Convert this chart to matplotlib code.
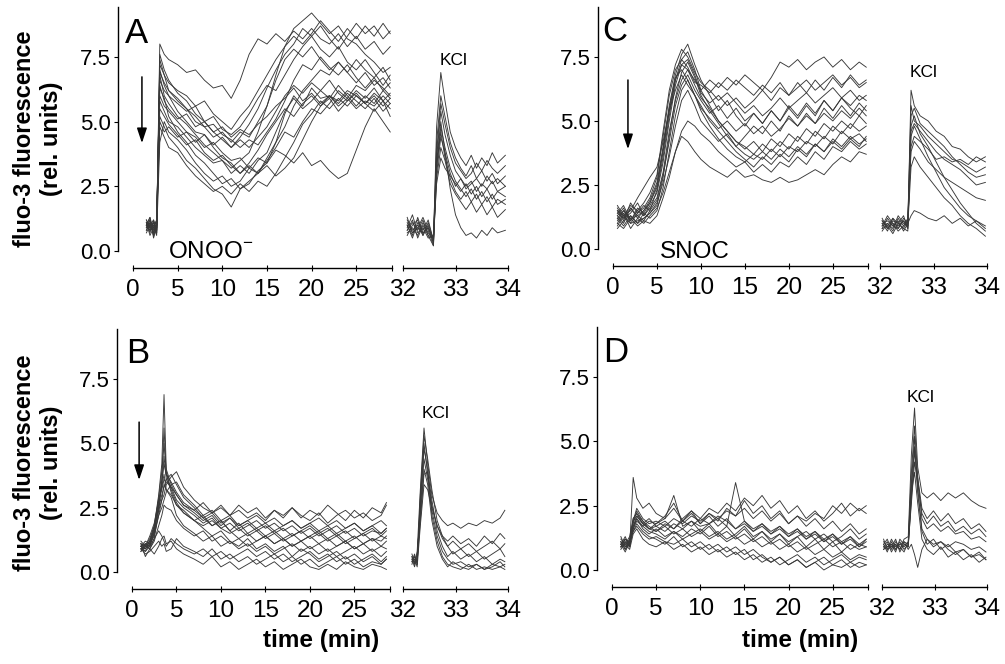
import matplotlib
matplotlib.use("Agg")
import matplotlib.pyplot as plt

# ------------------------------------------------------------------
# DATA (fluo-3 fluorescence, rel. units)
# ------------------------------------------------------------------
YTICKS = [0.0, 2.5, 5.0, 7.5]
YTICKLABELS = ["0.0", "2.5", "5.0", "7.5"]
XTICKS_LEFT = [0, 5, 10, 15, 20, 25]
XTICKS_RIGHT = [32, 33, 34]

# ---- Panel A (ONOO-) main recording ----
t_A = [1.5, 1.9, 2.3, 2.65, 3.0, 3.5, 4, 5, 6, 7, 8, 9, 10, 11, 12, 13, 14, 15, 16,
       17, 18, 19, 20, 21, 22, 23, 24, 25, 26, 27, 28, 28.8]
a01 = [1.0, 1.3, 0.8, 0.9, 8.0, 7.6, 7.4, 7.2, 6.9, 7.0, 6.6, 6.3, 6.4, 5.9, 6.6, 7.6, 8.2, 8.0, 8.4, 8.1, 8.5, 8.2, 8.6, 8.2, 8.0, 8.4, 7.9, 8.3, 7.8, 8.1, 7.6, 7.9]
a02 = [1.1, 0.7, 1.2, 0.8, 7.2, 6.8, 6.2, 5.8, 5.5, 5.0, 4.8, 4.4, 4.6, 4.2, 4.6, 4.4, 5.0, 5.6, 6.8, 7.9, 8.6, 8.9, 9.2, 8.8, 8.4, 8.7, 8.2, 8.0, 7.6, 7.3, 6.9, 7.1]
a03 = [0.9, 1.2, 0.6, 1.0, 5.2, 4.8, 4.4, 4.0, 3.5, 3.2, 2.8, 2.4, 2.2, 1.7, 2.4, 2.6, 3.1, 3.4, 4.2, 5.3, 6.0, 5.6, 6.3, 5.9, 6.0, 5.7, 6.1, 5.8, 5.5, 5.9, 5.4, 5.7]
a04 = [1.0, 0.8, 1.1, 0.7, 6.0, 5.6, 5.4, 5.0, 4.6, 4.4, 4.0, 4.2, 3.8, 3.5, 3.6, 3.2, 3.6, 3.4, 3.9, 3.7, 3.4, 3.8, 3.3, 3.5, 3.1, 2.8, 3.0, 3.9, 4.8, 5.5, 5.0, 4.6]
a05 = [0.8, 1.1, 0.9, 1.2, 6.6, 6.2, 6.0, 5.4, 5.0, 4.6, 4.5, 4.0, 3.6, 3.4, 3.0, 3.3, 3.0, 3.6, 4.2, 4.8, 5.6, 6.2, 6.6, 7.0, 6.8, 7.3, 6.9, 7.4, 7.0, 6.7, 7.1, 6.6]
a06 = [1.2, 0.9, 1.0, 0.6, 4.2, 5.0, 4.6, 4.3, 3.9, 3.4, 3.0, 2.7, 2.9, 2.5, 2.7, 3.2, 3.0, 3.3, 2.9, 3.2, 3.6, 4.3, 5.0, 5.6, 6.0, 5.8, 6.2, 6.0, 5.7, 6.1, 5.8, 5.5]
a07 = [0.9, 1.0, 0.7, 1.1, 7.0, 6.4, 6.0, 5.7, 5.4, 5.6, 5.0, 5.2, 4.7, 4.5, 4.8, 5.3, 5.9, 6.4, 6.2, 6.8, 7.4, 7.9, 8.3, 7.8, 7.5, 7.9, 7.3, 7.0, 7.4, 6.9, 6.4, 6.8]
a08 = [1.1, 0.6, 0.9, 1.0, 5.8, 5.4, 5.0, 4.8, 4.4, 4.0, 3.7, 3.4, 3.5, 3.0, 3.3, 3.0, 3.5, 3.8, 4.6, 5.4, 5.9, 5.5, 5.8, 6.2, 5.9, 6.4, 6.0, 5.6, 6.0, 5.7, 6.2, 5.9]
a09 = [1.0, 1.3, 0.5, 0.9, 6.3, 5.9, 5.2, 4.6, 4.2, 3.7, 3.4, 3.0, 2.6, 2.8, 2.4, 2.7, 3.0, 3.5, 4.0, 4.6, 4.4, 5.0, 5.5, 5.3, 5.7, 6.2, 5.9, 6.4, 6.2, 6.6, 6.3, 6.0]
a10 = [0.7, 1.0, 1.2, 0.8, 7.6, 7.0, 6.6, 6.1, 5.8, 5.3, 5.0, 4.6, 4.3, 4.0, 4.4, 4.9, 5.5, 6.3, 7.0, 7.6, 8.0, 8.6, 8.3, 8.7, 8.2, 7.8, 8.3, 8.8, 8.4, 8.7, 8.2, 8.5]
a11 = [1.0, 0.8, 1.0, 1.1, 5.0, 4.6, 4.8, 4.4, 4.6, 4.2, 4.5, 4.1, 4.4, 4.0, 4.3, 4.0, 4.4, 4.8, 5.4, 6.0, 6.4, 6.1, 6.5, 6.2, 6.6, 6.1, 5.8, 6.2, 5.9, 6.3, 5.8, 6.1]
a12 = [1.2, 0.9, 0.8, 1.0, 6.8, 6.0, 5.7, 5.2, 4.9, 4.5, 4.1, 3.8, 3.5, 3.2, 3.5, 3.8, 4.6, 5.6, 6.6, 7.4, 7.8, 7.5, 7.9, 7.4, 7.0, 7.3, 6.9, 6.5, 6.9, 6.4, 6.7, 6.3]
a13 = [0.8, 1.1, 0.6, 0.9, 4.8, 4.4, 4.0, 3.8, 3.3, 2.9, 2.6, 2.3, 2.5, 2.2, 2.6, 2.3, 2.7, 2.5, 3.0, 3.6, 4.2, 4.9, 5.3, 5.8, 5.5, 5.9, 5.6, 6.0, 5.7, 5.4, 5.8, 5.2]
a14 = [1.1, 1.0, 0.9, 0.7, 7.4, 6.8, 6.5, 6.2, 6.0, 5.6, 5.8, 5.3, 5.0, 4.7, 5.2, 5.6, 6.2, 6.8, 7.4, 7.9, 8.3, 8.0, 8.4, 8.9, 8.5, 8.1, 8.6, 8.2, 8.7, 8.3, 8.8, 8.4]
a15 = [0.9, 1.2, 0.7, 1.0, 6.4, 5.8, 5.5, 5.1, 5.3, 4.8, 5.0, 4.6, 4.8, 4.4, 4.7, 4.5, 4.9, 5.2, 5.6, 5.9, 6.3, 5.8, 6.1, 5.7, 6.0, 5.6, 5.9, 5.5, 5.8, 5.6, 6.0, 5.7]
a16 = [1.0, 0.9, 1.1, 0.8, 5.5, 5.2, 4.9, 4.5, 4.1, 4.3, 3.8, 3.5, 3.7, 3.3, 3.0, 3.4, 3.9, 4.5, 5.0, 5.5, 5.2, 5.7, 6.0, 5.6, 5.9, 5.4, 5.8, 6.1, 5.7, 6.0, 5.6, 5.9]
a17 = [1.1, 0.8, 0.9, 1.2, 6.9, 6.5, 6.2, 5.9, 5.5, 5.2, 4.8, 4.9, 4.5, 4.3, 4.0, 4.3, 4.1, 4.6, 5.1, 5.8, 6.6, 7.2, 7.0, 7.5, 7.1, 6.8, 7.2, 6.7, 6.3, 6.7, 6.2, 6.5]
A_main = [a01, a02, a03, a04, a05, a06, a07, a08, a09, a10, a11, a12, a13, a14, a15, a16, a17]

# ---- Panel A KCl test ----
t_Ak = [32.08, 32.18, 32.28, 32.38, 32.48, 32.58, 32.64, 32.72, 32.8, 32.9, 33.0,
        33.1, 33.2, 33.3, 33.4, 33.5, 33.6, 33.7, 33.8, 33.95]
ak01 = [1.0, 0.6, 1.3, 0.7, 0.9, 0.3, 4.8, 6.9, 5.8, 4.6, 4.0, 3.6, 3.3, 3.7, 3.2, 3.6, 3.3, 3.8, 3.4, 3.7]
ak02 = [0.8, 1.2, 0.5, 1.0, 0.6, 0.5, 4.2, 6.0, 5.2, 4.2, 3.6, 3.2, 2.9, 3.3, 2.8, 3.1, 2.7, 3.0, 2.6, 2.9]
ak03 = [1.1, 0.7, 0.9, 1.3, 0.8, 0.2, 3.6, 5.4, 4.5, 3.7, 3.1, 2.8, 2.5, 2.7, 2.3, 2.6, 2.4, 2.7, 2.3, 2.5]
ak04 = [0.6, 1.0, 1.2, 0.6, 1.1, 0.4, 3.2, 4.8, 4.0, 3.2, 2.7, 2.4, 2.1, 2.4, 2.0, 2.3, 1.9, 2.2, 1.8, 2.0]
ak05 = [0.9, 1.4, 0.7, 0.9, 0.5, 0.6, 3.0, 4.4, 3.8, 3.0, 2.5, 2.8, 2.4, 2.6, 2.8, 2.5, 2.9, 2.6, 2.8, 2.5]
ak06 = [1.2, 0.8, 1.0, 0.6, 1.0, 0.3, 2.8, 4.0, 3.5, 2.6, 2.2, 1.9, 1.6, 1.9, 1.5, 1.8, 1.4, 1.7, 1.3, 1.6]
ak07 = [0.7, 0.9, 0.6, 1.1, 0.7, 0.5, 3.4, 5.0, 3.8, 2.4, 1.4, 0.9, 0.6, 0.7, 0.5, 0.8, 0.6, 0.9, 0.7, 0.8]
ak08 = [1.0, 0.5, 1.1, 0.8, 1.2, 0.4, 3.8, 5.7, 4.9, 4.0, 3.4, 3.1, 2.8, 3.0, 3.4, 3.1, 3.5, 3.2, 3.0, 3.3]
ak09 = [0.8, 1.1, 0.8, 1.2, 0.6, 0.2, 3.3, 4.6, 3.6, 2.8, 2.3, 2.0, 2.3, 1.9, 2.2, 1.8, 2.1, 1.7, 2.0, 1.8]
ak10 = [1.3, 0.7, 0.9, 0.7, 0.9, 0.5, 2.6, 3.6, 3.2, 2.9, 2.6, 2.3, 2.6, 2.2, 2.5, 2.1, 2.4, 2.0, 2.3, 2.1]
A_kcl = [ak01, ak02, ak03, ak04, ak05, ak06, ak07, ak08, ak09, ak10]

# ---- Panel B main recording ----
t_B = [1.0, 1.5, 2.0, 2.5, 3.0, 3.35, 3.6, 3.85, 4.4, 5.0, 5.8, 7, 8, 9, 10, 11, 12,
       13, 14, 15, 16, 17, 18, 19, 20, 21, 22, 23, 24, 25, 26, 27, 28, 28.6]
b01 = [1.0, 0.9, 1.2, 1.8, 3.0, 4.2, 6.9, 4.0, 3.4, 3.0, 2.6, 2.3, 2.0, 2.2, 1.8, 2.1, 1.7, 1.9, 1.6, 1.8, 1.5, 1.7, 1.4, 1.6, 1.8, 1.5, 1.7, 1.4, 1.6, 1.3, 1.5, 1.7, 1.4, 1.6]
b02 = [0.9, 1.1, 1.0, 1.5, 2.6, 3.6, 5.6, 3.8, 3.1, 2.6, 2.4, 2.0, 2.2, 1.8, 2.0, 1.6, 1.9, 1.5, 1.7, 1.4, 1.6, 1.3, 1.5, 1.2, 1.4, 1.6, 1.3, 1.5, 1.2, 1.4, 1.1, 1.3, 1.2, 1.4]
b03 = [1.1, 1.0, 0.9, 1.3, 2.4, 3.4, 4.5, 3.6, 3.3, 2.8, 2.5, 2.2, 1.9, 2.1, 1.7, 1.9, 1.6, 1.8, 2.0, 1.7, 1.9, 1.6, 1.8, 1.5, 1.7, 1.4, 1.6, 1.8, 1.5, 1.7, 1.4, 1.6, 1.5, 1.7]
b04 = [0.8, 1.0, 1.3, 1.8, 2.4, 2.8, 3.0, 3.4, 3.7, 3.9, 3.3, 2.8, 2.5, 2.3, 2.6, 2.2, 2.4, 2.1, 2.3, 2.0, 2.4, 2.1, 2.5, 2.2, 2.0, 2.3, 1.9, 2.2, 2.4, 2.1, 2.3, 2.0, 2.2, 2.6]
b05 = [1.0, 0.8, 1.1, 1.5, 2.2, 2.5, 2.8, 3.1, 3.4, 3.5, 3.0, 2.6, 2.2, 2.4, 2.0, 2.2, 1.8, 2.0, 1.7, 1.9, 1.6, 1.8, 2.0, 1.7, 1.9, 1.6, 1.8, 1.5, 1.7, 1.9, 1.6, 1.8, 1.5, 1.7]
b06 = [0.9, 0.7, 0.8, 1.0, 1.2, 1.0, 1.1, 0.8, 0.9, 1.3, 1.0, 0.8, 0.6, 0.9, 0.5, 0.7, 0.4, 0.6, 0.3, 0.5, 0.7, 0.4, 0.6, 0.3, 0.5, 0.2, 0.4, 0.6, 0.3, 0.5, 0.2, 0.4, 0.3, 0.5]
b07 = [1.1, 0.6, 0.9, 0.7, 1.0, 1.3, 1.4, 1.1, 1.2, 0.9, 0.7, 0.5, 0.3, 0.6, 0.2, 0.4, 0.1, 0.3, 0.5, 0.2, 0.4, 0.1, 0.3, 0.5, 0.2, 0.1, 0.3, 0.1, 0.4, 0.2, 0.1, 0.3, 0.2, 0.1]
b08 = [1.0, 1.1, 1.0, 1.6, 2.8, 3.3, 3.8, 3.2, 2.9, 2.2, 1.8, 1.5, 1.2, 1.4, 1.0, 1.2, 0.9, 1.1, 0.8, 1.0, 0.7, 0.9, 1.1, 0.8, 1.0, 0.7, 0.9, 0.6, 0.8, 1.0, 0.7, 0.9, 0.6, 0.8]
b09 = [0.9, 1.0, 1.2, 1.6, 2.6, 3.5, 4.2, 3.8, 3.5, 3.1, 2.7, 2.4, 2.1, 1.8, 2.0, 1.6, 1.3, 1.5, 1.2, 1.4, 1.1, 1.3, 1.0, 1.2, 0.9, 1.1, 0.8, 1.0, 1.2, 0.9, 1.1, 0.8, 1.0, 0.9]
b10 = [1.0, 0.9, 1.1, 1.4, 2.2, 2.8, 3.4, 3.2, 3.0, 2.6, 2.3, 2.0, 1.7, 1.4, 1.6, 1.2, 1.0, 1.3, 0.9, 1.1, 0.8, 1.0, 0.6, 0.9, 0.7, 0.4, 0.6, 0.8, 0.5, 0.7, 0.4, 0.6, 0.3, 0.5]
b11 = [1.2, 1.0, 1.4, 1.9, 2.8, 3.2, 3.6, 3.5, 3.3, 3.0, 2.6, 2.4, 2.7, 2.3, 2.5, 2.2, 2.6, 2.3, 2.5, 2.1, 2.4, 2.2, 2.5, 2.1, 2.4, 2.2, 2.6, 2.3, 2.0, 2.4, 2.1, 2.5, 2.3, 2.7]
b12 = [0.8, 1.1, 0.9, 1.2, 1.8, 2.2, 2.6, 2.5, 2.4, 2.0, 1.7, 1.4, 1.6, 1.2, 1.4, 1.1, 1.3, 1.0, 1.2, 1.4, 1.1, 1.3, 1.0, 1.2, 1.4, 1.1, 1.3, 1.0, 1.2, 0.9, 1.1, 1.3, 1.0, 1.2]
b13 = [1.0, 1.2, 1.1, 1.7, 2.9, 3.9, 5.0, 3.9, 3.2, 2.7, 2.3, 2.0, 1.8, 2.0, 1.7, 1.5, 1.7, 1.4, 1.6, 1.3, 1.5, 1.2, 1.4, 1.6, 1.3, 1.5, 1.2, 1.4, 1.1, 1.3, 1.5, 1.2, 1.4, 1.3]
b14 = [0.9, 0.8, 1.0, 1.3, 1.6, 1.4, 1.2, 1.0, 1.3, 1.1, 0.9, 0.7, 0.9, 0.6, 0.8, 0.5, 0.7, 0.9, 0.6, 0.8, 0.5, 0.7, 0.4, 0.6, 0.8, 0.5, 0.7, 0.4, 0.6, 0.3, 0.5, 0.7, 0.4, 0.6]
b15 = [1.1, 0.9, 1.2, 1.7, 2.5, 3.0, 3.3, 3.6, 3.8, 3.4, 2.9, 2.5, 2.1, 2.3, 1.9, 2.1, 1.8, 2.0, 2.2, 1.9, 2.1, 1.8, 2.0, 1.7, 1.9, 2.1, 1.8, 2.0, 1.7, 1.9, 1.6, 1.8, 2.0, 1.8]
B_main = [b01, b02, b03, b04, b05, b06, b07, b08, b09, b10, b11, b12, b13, b14, b15]

# ---- Panel B KCl test ----
t_Bk = [32.17, 32.22, 32.27, 32.33, 32.4, 32.47, 32.55, 32.65, 32.75, 32.85, 32.95,
        33.1, 33.25, 33.4, 33.55, 33.7, 33.85, 33.94]
bk01 = [0.6, 0.3, 0.8, 3.2, 5.6, 4.2, 3.0, 2.3, 2.0, 1.8, 1.9, 1.7, 1.9, 1.8, 2.0, 1.9, 2.1, 2.4]
bk02 = [0.4, 0.7, 0.3, 2.8, 5.0, 3.8, 2.6, 1.8, 1.3, 1.0, 1.2, 0.9, 1.1, 0.8, 1.0, 1.2, 0.9, 1.1]
bk03 = [0.5, 0.2, 0.6, 2.4, 4.4, 3.6, 2.4, 1.4, 0.8, 0.5, 0.3, 0.4, 0.2, 0.3, 0.1, 0.3, 0.2, 0.3]
bk04 = [0.3, 0.6, 0.4, 2.0, 3.8, 3.9, 2.8, 1.6, 1.0, 0.6, 0.8, 0.5, 0.7, 0.4, 0.6, 0.3, 0.5, 0.4]
bk05 = [0.7, 0.4, 0.5, 2.6, 4.8, 4.0, 2.2, 1.2, 0.6, 0.3, 0.2, 0.1, 0.3, 0.1, 0.2, 0.1, 0.2, 0.1]
bk06 = [0.4, 0.5, 0.2, 1.8, 3.4, 3.2, 2.5, 1.8, 1.4, 1.2, 1.4, 1.1, 1.3, 1.0, 1.4, 1.1, 1.5, 1.3]
bk07 = [0.6, 0.3, 0.7, 2.2, 4.0, 3.4, 2.0, 1.0, 0.5, 0.2, 0.4, 0.2, 0.1, 0.3, 0.1, 0.2, 0.4, 0.2]
bk08 = [0.5, 0.6, 0.3, 3.0, 5.3, 4.4, 3.2, 2.0, 1.4, 1.0, 0.7, 0.9, 0.6, 0.8, 0.5, 0.7, 0.9, 0.6]
B_kcl = [bk01, bk02, bk03, bk04, bk05, bk06, bk07, bk08]

# ---- Panel C (SNOC) main recording ----
t_C = [0.5, 1.2, 2.0, 2.8, 3.5, 4.2, 5.0, 5.7, 6.4, 7.1, 7.8, 8.5, 9.3, 10, 11, 12, 13,
       14, 15, 16, 17, 18, 19, 20, 21, 22, 23, 24, 25, 26, 27, 28, 28.8]
c01 = [1.3, 1.0, 1.6, 1.2, 1.5, 1.9, 2.6, 4.0, 5.6, 6.8, 7.6, 8.0, 7.2, 6.6, 6.0, 5.4, 5.8, 5.2, 4.8, 5.3, 4.9, 5.4, 5.0, 5.6, 5.2, 5.7, 5.3, 5.8, 5.4, 5.9, 5.5, 5.2, 5.6]
c02 = [1.6, 1.2, 1.4, 1.8, 1.3, 1.7, 2.2, 3.4, 5.0, 6.4, 7.2, 7.0, 6.6, 6.2, 6.6, 6.3, 6.7, 6.4, 6.8, 6.5, 6.2, 6.7, 7.3, 7.1, 7.4, 7.0, 7.3, 7.5, 7.1, 7.4, 7.0, 7.3, 7.1]
c03 = [1.0, 1.4, 0.8, 1.2, 1.0, 1.3, 1.6, 2.2, 3.0, 3.8, 4.4, 4.2, 3.8, 3.5, 3.2, 3.0, 2.8, 3.1, 2.8, 2.9, 2.7, 2.6, 2.8, 2.6, 2.7, 2.9, 3.1, 2.9, 3.3, 3.6, 3.4, 3.8, 3.7]
c04 = [1.4, 1.7, 1.1, 1.5, 1.3, 1.6, 2.0, 3.0, 4.6, 5.8, 6.6, 7.0, 6.4, 5.9, 5.5, 5.0, 4.6, 4.2, 3.9, 4.2, 3.8, 4.3, 4.0, 4.5, 4.2, 4.7, 4.4, 4.9, 4.6, 5.0, 4.7, 5.2, 4.9]
c05 = [1.2, 0.9, 1.3, 1.0, 1.4, 1.2, 1.5, 2.4, 3.8, 5.2, 6.2, 6.6, 6.0, 5.4, 4.8, 4.3, 3.9, 3.6, 3.4, 3.7, 3.5, 3.9, 3.6, 4.0, 3.8, 4.2, 4.0, 4.4, 4.1, 4.6, 4.3, 4.5, 4.2]
c06 = [1.5, 1.1, 1.8, 1.4, 1.6, 2.0, 2.8, 4.4, 6.0, 7.0, 7.4, 7.1, 6.5, 6.4, 6.1, 6.5, 6.2, 6.6, 6.3, 6.0, 6.4, 6.1, 6.5, 6.0, 6.3, 6.6, 6.2, 6.5, 6.8, 6.4, 6.7, 6.3, 6.5]
c07 = [0.9, 1.3, 1.0, 1.1, 1.2, 1.4, 1.8, 2.6, 3.6, 4.8, 5.8, 6.2, 5.6, 5.0, 4.6, 4.2, 4.5, 4.0, 4.4, 4.8, 4.5, 5.0, 4.6, 5.2, 4.8, 5.3, 4.9, 5.5, 5.1, 5.6, 5.2, 5.7, 5.4]
c08 = [1.7, 1.3, 1.5, 2.0, 2.4, 2.8, 3.2, 4.2, 5.4, 6.2, 6.8, 6.4, 6.0, 5.6, 5.0, 4.6, 4.2, 3.8, 3.5, 3.2, 3.6, 3.3, 3.7, 3.4, 3.9, 3.6, 4.1, 3.8, 4.3, 4.0, 4.4, 4.1, 4.3]
c09 = [1.1, 1.5, 1.2, 1.3, 1.1, 1.5, 1.9, 2.9, 4.2, 5.6, 6.4, 6.8, 6.2, 5.8, 5.3, 5.6, 5.1, 5.5, 5.0, 5.3, 4.9, 5.4, 5.0, 5.5, 5.1, 5.6, 5.2, 5.8, 5.4, 5.9, 5.6, 6.0, 5.8]
c10 = [1.3, 1.6, 1.0, 1.4, 1.7, 1.5, 2.3, 3.6, 5.2, 6.6, 7.4, 7.7, 7.0, 6.2, 5.6, 5.0, 4.6, 4.2, 4.0, 3.7, 4.1, 3.8, 4.2, 3.9, 4.4, 4.1, 4.6, 4.3, 4.8, 4.5, 4.9, 4.6, 4.8]
c11 = [1.0, 0.8, 1.2, 0.9, 1.1, 1.0, 1.3, 2.0, 2.8, 3.8, 4.6, 5.0, 4.8, 4.5, 4.2, 3.8, 3.5, 3.2, 3.4, 3.0, 3.3, 3.0, 3.4, 3.2, 3.6, 3.3, 3.8, 3.5, 4.0, 3.8, 4.2, 3.9, 4.1]
c12 = [1.4, 1.2, 1.6, 1.3, 1.5, 1.8, 2.4, 3.8, 5.4, 6.6, 7.2, 7.4, 6.8, 6.1, 5.7, 6.0, 5.6, 5.9, 5.5, 5.8, 6.2, 5.8, 6.3, 6.0, 6.5, 6.1, 6.6, 6.2, 6.7, 6.3, 6.8, 6.4, 6.6]
c13 = [1.2, 1.5, 1.1, 1.6, 1.4, 1.8, 2.5, 3.9, 5.5, 6.7, 7.0, 6.6, 6.0, 5.5, 5.1, 4.7, 5.0, 4.6, 4.9, 4.5, 4.8, 4.4, 4.7, 5.1, 4.8, 5.2, 4.9, 5.3, 5.0, 5.4, 5.1, 5.5, 5.2]
c14 = [0.8, 1.1, 1.3, 1.0, 1.2, 1.4, 1.7, 2.8, 4.4, 5.9, 6.9, 7.3, 6.7, 6.0, 5.4, 4.9, 4.4, 4.0, 3.7, 3.5, 3.8, 3.5, 3.9, 3.6, 4.0, 3.7, 4.1, 3.8, 4.2, 3.9, 4.3, 4.0, 4.4]
c15 = [1.5, 1.3, 1.7, 1.5, 1.8, 2.2, 2.9, 4.6, 6.2, 7.2, 7.8, 7.5, 6.9, 6.5, 6.2, 5.8, 6.1, 5.7, 5.3, 5.6, 5.2, 5.5, 5.9, 5.5, 5.8, 6.1, 5.7, 6.0, 6.3, 5.9, 6.2, 5.8, 6.0]
C_main = [c01, c02, c03, c04, c05, c06, c07, c08, c09, c10, c11, c12, c13, c14, c15]

# ---- Panel C KCl test ----
t_Ck = [32.04, 32.14, 32.24, 32.34, 32.44, 32.52, 32.58, 32.64, 32.75, 32.9, 33.05,
        33.2, 33.35, 33.5, 33.65, 33.8, 33.97]
ck01 = [1.0, 0.7, 1.2, 0.8, 1.1, 0.9, 6.2, 5.6, 5.2, 5.0, 4.6, 4.4, 4.0, 3.9, 3.6, 3.4, 3.6]
ck02 = [0.8, 1.2, 0.9, 1.1, 0.7, 1.0, 5.2, 5.5, 4.9, 4.6, 4.3, 4.0, 3.6, 3.3, 3.0, 2.8, 2.9]
ck03 = [1.1, 0.9, 0.6, 1.0, 1.3, 0.8, 4.6, 4.9, 4.6, 4.2, 3.8, 3.5, 3.3, 3.1, 2.8, 2.5, 2.6]
ck04 = [0.9, 1.3, 1.0, 0.7, 0.9, 1.1, 4.0, 4.4, 4.2, 3.9, 3.5, 3.6, 3.4, 3.5, 3.3, 3.6, 3.4]
ck05 = [1.2, 0.8, 1.1, 1.0, 0.8, 0.7, 4.8, 5.2, 4.5, 4.0, 3.4, 2.8, 2.3, 1.8, 1.4, 1.0, 0.7]
ck06 = [0.7, 1.0, 0.8, 1.3, 1.0, 0.9, 3.2, 3.6, 3.2, 2.8, 2.4, 2.0, 1.7, 1.3, 1.0, 0.8, 0.5]
ck07 = [1.0, 1.1, 0.9, 0.8, 1.2, 1.0, 1.3, 1.5, 1.4, 1.2, 1.1, 1.3, 1.0, 1.2, 0.9, 1.1, 0.8]
ck08 = [0.8, 0.9, 1.2, 1.0, 0.8, 1.1, 5.6, 5.0, 4.8, 4.4, 4.1, 3.8, 3.5, 3.4, 3.2, 3.0, 3.2]
ck09 = [1.1, 0.8, 1.0, 0.9, 1.1, 0.8, 4.4, 4.8, 4.3, 3.6, 3.0, 2.4, 2.0, 1.6, 1.3, 1.1, 0.9]
ck10 = [0.9, 1.0, 0.7, 1.2, 0.9, 1.2, 3.8, 4.2, 3.9, 3.4, 3.1, 2.8, 2.6, 2.4, 2.2, 2.0, 1.9]
C_kcl = [ck01, ck02, ck03, ck04, ck05, ck06, ck07, ck08, ck09, ck10]

# ---- Panel D main recording ----
t_D = [1.0, 1.5, 2.0, 2.4, 2.8, 3.5, 4.2, 5, 6, 7, 8, 9, 10, 11, 12, 13, 14, 15, 16,
       17, 18, 19, 20, 21, 22, 23, 24, 25, 26, 27, 28, 28.8]
d01 = [1.0, 1.3, 0.9, 3.6, 2.8, 2.4, 2.6, 2.2, 2.0, 2.4, 1.9, 2.2, 1.8, 2.1, 1.7, 2.0, 1.6, 1.9, 1.5, 1.8, 1.4, 1.7, 1.3, 1.6, 1.2, 1.5, 1.1, 1.4, 1.0, 1.3, 0.9, 1.2]
d02 = [1.1, 0.8, 1.2, 1.9, 2.1, 1.8, 1.6, 1.7, 1.5, 1.8, 1.6, 1.9, 1.7, 1.8, 2.0, 1.7, 3.4, 1.9, 1.6, 1.8, 1.5, 1.7, 1.4, 1.6, 1.3, 1.5, 1.2, 1.4, 1.1, 1.3, 1.0, 1.2]
d03 = [0.9, 1.2, 1.0, 1.6, 2.0, 1.7, 1.9, 1.8, 2.1, 2.6, 1.9, 2.3, 2.0, 2.4, 2.2, 2.6, 2.3, 2.8, 2.5, 2.9, 2.4, 2.7, 2.2, 2.5, 2.0, 2.3, 1.9, 2.2, 2.6, 2.1, 2.4, 2.2]
d04 = [1.0, 0.7, 1.1, 1.5, 1.8, 1.5, 1.3, 1.2, 1.0, 1.3, 0.9, 1.1, 0.8, 1.0, 0.7, 0.9, 0.6, 0.8, 0.4, 0.6, 0.3, 0.5, 0.2, 0.4, 0.1, 0.3, 0.0, 0.2, 0.1, 0.3, 0.1, 0.2]
d05 = [1.2, 1.0, 1.3, 2.0, 2.2, 1.9, 1.7, 1.5, 1.7, 1.4, 1.6, 1.3, 1.5, 1.2, 1.4, 1.1, 1.3, 1.0, 1.2, 0.9, 1.1, 0.8, 1.0, 0.7, 0.9, 0.6, 0.8, 0.5, 0.7, 0.4, 0.6, 0.5]
d06 = [0.8, 1.1, 0.9, 1.7, 2.0, 1.6, 1.4, 1.6, 1.3, 1.5, 1.2, 1.4, 1.6, 1.3, 1.5, 1.2, 1.4, 1.7, 1.3, 1.5, 1.2, 1.4, 1.1, 1.3, 1.5, 1.2, 1.4, 1.1, 1.3, 1.6, 1.2, 1.4]
d07 = [1.1, 0.9, 1.0, 1.8, 2.3, 1.9, 1.6, 1.8, 2.0, 2.9, 1.7, 1.9, 1.5, 1.8, 1.4, 1.7, 1.3, 1.6, 1.2, 1.5, 1.1, 1.4, 1.0, 1.3, 0.9, 1.2, 0.8, 1.1, 0.7, 1.0, 0.8, 0.9]
d08 = [0.9, 1.0, 0.8, 1.4, 1.6, 1.2, 1.0, 0.9, 1.1, 0.8, 1.0, 0.7, 0.9, 0.6, 0.8, 0.5, 0.7, 0.4, 0.6, 0.3, 0.5, 0.2, 0.4, 0.6, 0.3, 0.5, 0.2, 0.4, 0.6, 0.3, 0.5, 0.4]
d09 = [1.0, 1.2, 1.1, 1.9, 2.4, 2.0, 1.8, 1.9, 1.7, 2.0, 1.8, 2.1, 1.9, 2.2, 2.0, 2.3, 2.1, 2.4, 2.0, 2.3, 1.9, 2.2, 1.8, 2.1, 1.9, 2.2, 2.0, 2.5, 2.2, 2.6, 2.3, 2.5]
d10 = [1.3, 0.9, 1.2, 1.6, 1.9, 1.7, 1.5, 1.4, 1.2, 1.5, 1.3, 1.6, 1.4, 1.7, 1.3, 1.5, 1.2, 1.4, 1.1, 1.3, 1.0, 1.2, 0.9, 1.1, 0.8, 1.0, 1.2, 0.9, 1.1, 0.8, 1.0, 0.9]
d11 = [1.0, 1.1, 0.9, 1.7, 2.1, 1.8, 1.6, 1.5, 1.8, 1.6, 1.9, 1.7, 2.0, 1.8, 2.1, 1.9, 1.6, 1.8, 1.5, 1.7, 1.4, 1.6, 1.3, 1.5, 1.2, 1.4, 1.1, 1.3, 1.0, 1.2, 0.9, 1.1]
d12 = [1.1, 0.8, 1.0, 1.5, 1.7, 1.4, 1.2, 1.3, 1.1, 1.0, 1.2, 0.9, 1.1, 0.8, 1.0, 0.7, 0.9, 0.6, 0.8, 0.5, 0.3, 0.5, 0.2, 0.4, 0.1, 0.3, 0.5, 0.2, 0.4, 0.1, 0.3, 0.2]
d13 = [0.9, 1.2, 1.0, 2.0, 2.2, 1.8, 2.0, 1.7, 1.9, 1.6, 2.0, 2.3, 1.8, 2.2, 1.9, 2.4, 2.1, 2.7, 2.2, 2.5, 2.0, 2.3, 1.8, 2.1, 1.7, 2.0, 1.6, 1.9, 1.5, 1.8, 1.4, 1.6]
D_main = [d01, d02, d03, d04, d05, d06, d07, d08, d09, d10, d11, d12, d13]

# ---- Panel D KCl test ----
t_Dk = [32.03, 32.1, 32.18, 32.26, 32.34, 32.42, 32.5, 32.56, 32.62, 32.68, 32.76,
        32.86, 32.98, 33.12, 33.26, 33.4, 33.55, 33.7, 33.85, 33.98]
dk01 = [0.9, 1.1, 0.7, 1.0, 0.8, 1.2, 1.3, 4.5, 6.3, 4.0, 3.0, 2.8, 3.0, 2.7, 3.0, 2.8, 3.0, 2.7, 2.5, 2.4]
dk02 = [1.0, 0.7, 1.1, 0.8, 1.0, 0.9, 1.1, 3.8, 5.6, 3.6, 2.0, 1.6, 1.8, 1.5, 1.7, 1.4, 1.5, 1.2, 1.3, 1.1]
dk03 = [0.8, 1.0, 0.9, 1.2, 0.7, 1.0, 0.9, 3.2, 4.8, 3.0, 1.5, 1.0, 1.2, 0.8, 1.0, 0.7, 0.8, 0.5, 0.6, 0.4]
dk04 = [1.1, 0.9, 1.0, 0.8, 1.1, 0.8, 1.0, 2.6, 4.2, 3.4, 2.2, 1.8, 2.1, 1.7, 1.9, 1.5, 1.7, 1.4, 1.6, 1.3]
dk05 = [0.9, 0.8, 1.2, 0.9, 1.0, 1.1, 0.8, 1.0, 0.6, 0.1, 0.8, 1.2, 1.0, 1.1, 0.9, 1.1, 1.0, 0.8, 0.9, 0.7]
dk06 = [1.0, 1.2, 0.8, 1.1, 0.9, 0.7, 1.1, 3.4, 5.2, 3.2, 1.6, 1.2, 0.9, 1.1, 0.8, 0.6, 0.8, 0.5, 0.7, 0.4]
dk07 = [0.8, 0.9, 1.0, 0.7, 1.2, 1.0, 0.9, 2.8, 4.6, 3.6, 2.4, 2.0, 2.3, 1.9, 2.2, 1.8, 2.0, 1.6, 1.8, 1.5]
dk08 = [1.2, 0.8, 0.9, 1.0, 0.8, 1.1, 1.0, 3.0, 3.8, 2.6, 1.2, 0.8, 0.6, 0.9, 0.5, 0.7, 0.4, 0.6, 0.3, 0.5]
D_kcl = [dk01, dk02, dk03, dk04, dk05, dk06, dk07, dk08]

# ------------------------------------------------------------------
# FIGURE
# ------------------------------------------------------------------
plt.rcParams["font.family"] = ["Liberation Sans", "DejaVu Sans"]
plt.rcParams["mathtext.fontset"] = "custom"
plt.rcParams["mathtext.rm"] = "Liberation Sans"
plt.rcParams["mathtext.it"] = "Liberation Sans"
plt.rcParams["mathtext.bf"] = "Liberation Sans:bold"

W, H = 1005, 664
fig = plt.figure(figsize=(W / 100, H / 100), dpi=100)
fig.patch.set_facecolor("white")

YMAX = 9.45
TRACE = dict(color="#383838", lw=0.65, clip_on=False)


def fx(x):
    return x / W


def fy(y):
    return 1 - y / H


def add_ax(x0, x1, y_top, y_zero):
    return fig.add_axes([fx(x0), fy(y_zero), (x1 - x0) / W, (y_zero - y_top) / H])


def style_main(ax):
    ax.set_xlim(0, 29)
    ax.set_ylim(0, YMAX)
    ax.patch.set_visible(False)
    for s in ("top", "right"):
        ax.spines[s].set_visible(False)
    ax.spines["left"].set_position(("outward", 11))
    ax.spines["bottom"].set_position(("outward", 12))
    for s in ("left", "bottom"):
        ax.spines[s].set_linewidth(1.0)
    ax.set_yticks(YTICKS)
    ax.set_yticklabels(YTICKLABELS)
    ax.set_xticks(XTICKS_LEFT)
    ax.set_xticklabels([str(v) for v in XTICKS_LEFT])
    ax.set_xticks([29], minor=True)
    ax.tick_params(axis="y", direction="out", length=3, width=0.8, pad=2, labelsize=16)
    ax.tick_params(axis="x", which="both", direction="inout", length=5, width=0.8,
                   pad=6, labelsize=17.5)


def style_kcl(ax):
    ax.set_xlim(32, 34)
    ax.set_ylim(0, YMAX)
    ax.patch.set_visible(False)
    for s in ("top", "right", "left"):
        ax.spines[s].set_visible(False)
    ax.spines["bottom"].set_position(("outward", 12))
    ax.spines["bottom"].set_linewidth(1.0)
    ax.set_yticks([])
    ax.set_xticks(XTICKS_RIGHT)
    ax.set_xticklabels([str(v) for v in XTICKS_RIGHT])
    ax.tick_params(axis="x", direction="inout", length=5, width=0.8, pad=6,
                   labelsize=17.5)


panels = [
    dict(t=t_A, main=A_main, tk=t_Ak, kcl=A_kcl, left=(133, 392), right=(403, 508),
         ytop=6.5, yzero=251, letter="A", lpos=(125, 43), kpos=(454, 65),
         label="ONOO$^{-}$", labpos=(168, 258), arrow=(1.0, 6.73, 4.17)),
    dict(t=t_B, main=B_main, tk=t_Bk, kcl=B_kcl, left=(132, 390), right=(403, 508),
         ytop=329, yzero=572, letter="B", lpos=(126, 363), kpos=(436, 418),
         label=None, labpos=None, arrow=(0.8, 5.83, 3.58)),
    dict(t=t_C, main=C_main, tk=t_Ck, kcl=C_kcl, left=(613, 868), right=(880, 987),
         ytop=7, yzero=249, letter="C", lpos=(602, 41), kpos=(924, 77),
         label="SNOC", labpos=(660, 258), arrow=(1.7, 6.6, 3.9)),
    dict(t=t_D, main=D_main, tk=t_Dk, kcl=D_kcl, left=(612, 868), right=(882, 987),
         ytop=327, yzero=570, letter="D", lpos=(603, 362), kpos=(921, 402),
         label=None, labpos=None, arrow=None),
]

for p in panels:
    ax = add_ax(p["left"][0], p["left"][1], p["ytop"], p["yzero"])
    style_main(ax)
    for tr in p["main"]:
        ax.plot(p["t"], tr, **TRACE)
    axk = add_ax(p["right"][0], p["right"][1], p["ytop"], p["yzero"])
    style_kcl(axk)
    for tr in p["kcl"]:
        axk.plot(p["tk"], tr, **TRACE)
    if p["arrow"] is not None:
        xa, y0, y1 = p["arrow"]
        ax.annotate("", xy=(xa, y1), xytext=(xa, y0),
                    arrowprops=dict(arrowstyle="-|>,head_length=0.9,head_width=0.3",
                                    color="black", lw=1.1, shrinkA=0, shrinkB=0))
    fig.text(fx(p["lpos"][0]), fy(p["lpos"][1]), p["letter"], fontsize=25,
             ha="left", va="baseline")
    fig.text(fx(p["kpos"][0]), fy(p["kpos"][1]), "KCl", fontsize=12.5,
             ha="center", va="baseline")
    if p["label"] is not None:
        fig.text(fx(p["labpos"][0]), fy(p["labpos"][1]), p["label"], fontsize=17.5,
                 ha="left", va="baseline")

for yc in (139, 463):
    fig.text(fx(38), fy(yc), "fluo-3 fluorescence\n(rel. units)", rotation=90,
             ha="center", va="center", fontsize=17, fontweight="bold",
             multialignment="center")

for xc in (321, 800):
    fig.text(fx(xc), fy(640), "time (min)", ha="center", va="center",
             fontsize=17.5, fontweight="bold")

fig.savefig("out.png", dpi=100, facecolor="white")
